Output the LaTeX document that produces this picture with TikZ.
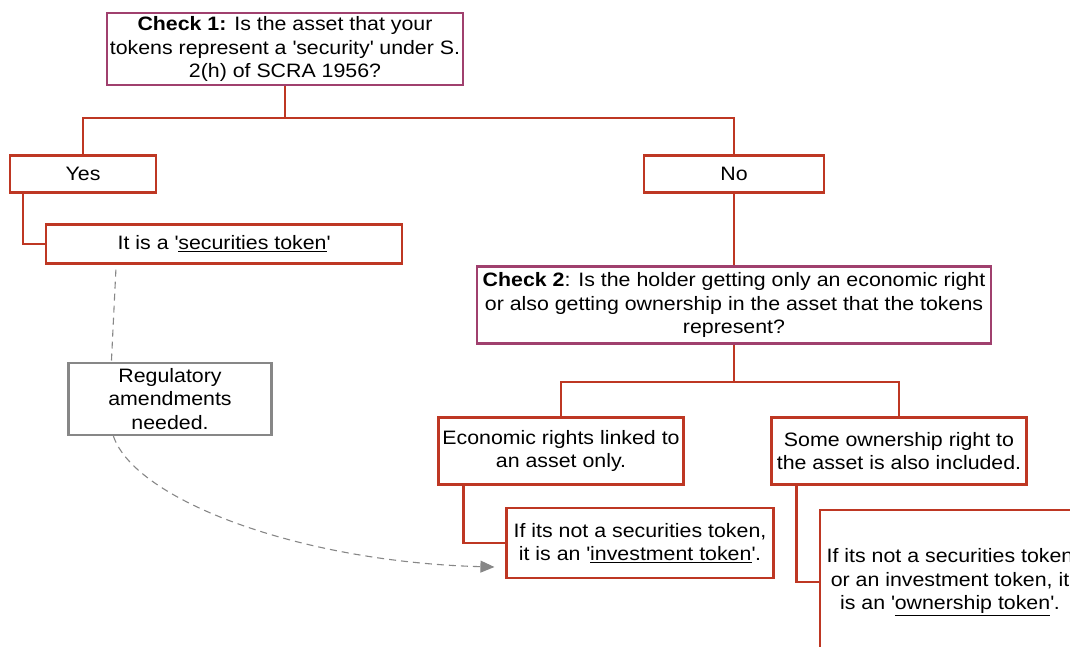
\documentclass[tikz,border=0pt]{standalone}
\usepackage{fontspec}
\setmainfont[FakeStretch=1.1]{Liberation Sans}
\usetikzlibrary{calc, positioning, arrows.meta}
\definecolor{boxred}{RGB}{190,55,35}
\definecolor{checkpurple}{RGB}{160,64,110}
\definecolor{notegray}{RGB}{135,135,135}
\newcommand{\sq}{\textquotesingle}
\tikzset{
  box/.style={draw=boxred, line width=2.2pt, fill=white, align=center, inner sep=0pt, font=\fontsize{19.4}{23.3}\selectfont},
  checkbox/.style={box, draw=checkpurple},
  notebox/.style={box, draw=notegray},
  link/.style={draw=boxred, line width=2.2pt},
  dashlink/.style={draw=notegray, line width=1.1pt, dash pattern=on 7pt off 5pt},
}

\begin{document}
\begin{tikzpicture}[x=1pt, y=-1pt]
          \clip (0,0) rectangle (1070,646);
          \useasboundingbox (0,0) rectangle (1070,646);
          % Check 1
          \node[checkbox, minimum width=356, minimum height=72] (c1) at (285,49) {\textbf{Check 1:} Is the asset that your\\tokens represent a \sq security\sq{} under S.\\2(h) of SCRA 1956?};
          \node[box, minimum width=146, minimum height=37] (yes) at (83,174) {Yes};
          \node[box, minimum width=180, minimum height=37] (no) at (734,174) {No};
          \node[box, minimum width=356, minimum height=39] (sec) at (224,244) {It is a \sq\underline{securities token}\sq};
          % Note
          \node[notebox, minimum width=203, minimum height=72] (reg) at (170,399) {Regulatory\\amendments\\needed.};
          % Check 2
          \node[checkbox, minimum width=514, minimum height=77] (c2) at (734,305) {\textbf{Check 2}: Is the holder getting only an economic right\\or also getting ownership in the asset that the tokens\\represent?};
          \node[box, minimum width=245, minimum height=67] (eco) at (561,451) {Economic rights linked to\\an asset only.};
          \node[box, minimum width=255, minimum height=67] (own) at (899,451) {Some ownership right to\\the asset is also included.};
          \node[box, minimum width=267, minimum height=70] (inv) at (640,543) {If its not a securities token,\\it is an \sq\underline{investment token}\sq.};
          \node[box, minimum width=260, minimum height=144] (otok) at (950,582) {If its not a securities token\\or an investment token, it\\is an \sq\underline{ownership token}\sq.};
          % Tree links
          \coordinate (split1) at (285,118);
          \coordinate (split2) at (734,382);
          \draw[link] (c1.south) -- (split1);
          \draw[link] (yes.north) |- (split1) -| (no.north);
          \draw[link] ($(yes.south west)+(14,0)$) |- (sec.west);
          \draw[link] (no.south) -- (c2.north);
          \draw[link] (c2.south) -- (split2);
          \draw[link] (eco.north) |- (split2) -| (own.north);
          \draw[link] ($(eco.south west)+(26,0)$) |- (inv.west);
          \draw[link] ($(own.south west)+(26,0)$) |- (otok.west);
          % Amendments
          \coordinate (arrowend) at ($(inv.west)+(-11,24)$);
          \draw[dashlink] ($(sec.south west)+(71,5)$) -- ($(reg.north west)+(44,0)$);
          \draw[dashlink, -{Triangle[length=14pt, width=12pt]}, notegray] ($(reg.south west)+(46,0)$) .. controls (135,500) and (300,562) .. (arrowend);
        \end{tikzpicture}
\end{document}
